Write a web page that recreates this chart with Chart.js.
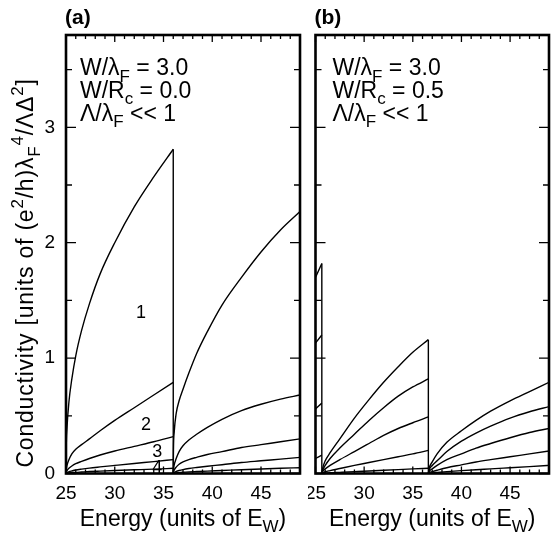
<!DOCTYPE html>
<html><head><meta charset="utf-8">
<script src="https://cdn.jsdelivr.net/npm/chart.js@4/dist/chart.umd.min.js"></script>
<style>
html,body{margin:0;padding:0;background:#fff;}
#wrap{position:relative;width:552px;height:535px;overflow:hidden;}
#ca{position:absolute;left:0;top:0;}
#cb{position:absolute;left:308px;top:0;}
</style></head><body>
<div id="wrap"><canvas id="ca" width="308" height="535"></canvas><canvas id="cb" width="244" height="535"></canvas></div>
<script>
// ---------- tick labels ----------
const xTicks = [25, 30, 35, 40, 45];
const yTicks = [0, 1, 2, 3];

// ---------- panel (a): W/Rc = 0.0 ----------
const eA1  = [25, 25.02, 25.1, 25.3, 25.6, 26, 26.6, 27.4, 28.5, 30, 32, 34, 36];
const a1n1 = [0, 0.20, 0.39, 0.62, 0.82, 1.02, 1.24, 1.47, 1.73, 2.0, 2.31, 2.57, 2.81];
const a1n2 = [0, 0.03, 0.07, 0.12, 0.17, 0.21, 0.25, 0.30, 0.37, 0.46, 0.57, 0.68, 0.79];
const a1n3 = [0, 0.01, 0.025, 0.045, 0.065, 0.085, 0.105, 0.13, 0.16, 0.195, 0.235, 0.275, 0.32];
const a1n4 = [0, 0.003, 0.008, 0.015, 0.022, 0.03, 0.038, 0.047, 0.057, 0.07, 0.087, 0.103, 0.12];
const a1n5 = [0, 0.001, 0.003, 0.005, 0.007, 0.01, 0.013, 0.017, 0.021, 0.026, 0.032, 0.038, 0.045];

const eA2  = [36, 36.02, 36.1, 36.3, 36.6, 37, 37.6, 38.4, 39.5, 41, 43, 45, 47, 49];
const a2n1 = [0, 0.20, 0.36, 0.52, 0.63, 0.73, 0.87, 1.04, 1.23, 1.46, 1.70, 1.92, 2.11, 2.27];
const a2n2 = [0, 0.03, 0.075, 0.13, 0.19, 0.24, 0.29, 0.34, 0.40, 0.47, 0.545, 0.60, 0.645, 0.68];
const a2n3 = [0, 0.01, 0.03, 0.055, 0.08, 0.10, 0.12, 0.14, 0.165, 0.19, 0.225, 0.25, 0.275, 0.30];
const a2n4 = [0, 0.003, 0.01, 0.018, 0.026, 0.034, 0.043, 0.052, 0.063, 0.076, 0.095, 0.11, 0.125, 0.14];
const a2n5 = [0, 0.001, 0.003, 0.005, 0.008, 0.011, 0.014, 0.017, 0.021, 0.026, 0.033, 0.039, 0.045, 0.05];

// curve labels in panel (a): [text, energy, conductivity]
const labelsA = [["1", 32.7, 1.40], ["2", 33.2, 0.43], ["3", 34.35, 0.195], ["4", 34.35, 0.057]];

// ---------- panel (b): W/Rc = 0.5 ----------
const eB0  = [25, 25.65];
const b0n1 = [1.70, 1.82];
const b0n2 = [1.13, 1.20];
const b0n3 = [0.56, 0.61];
const b0n4 = [0.13, 0.16];

const eB1  = [25.65, 25.75, 26, 26.5, 27.5, 29, 30.5, 32, 33.5, 35, 36.6];
const b1n1 = [0, 0.05, 0.11, 0.18, 0.30, 0.48, 0.64, 0.79, 0.925, 1.05, 1.16];
const b1n2 = [0, 0.03, 0.07, 0.13, 0.22, 0.34, 0.46, 0.57, 0.67, 0.75, 0.82];
const b1n3 = [0, 0.02, 0.04, 0.07, 0.12, 0.19, 0.26, 0.33, 0.39, 0.44, 0.49];
const b1n4 = [0, 0.006, 0.015, 0.025, 0.043, 0.07, 0.095, 0.12, 0.145, 0.17, 0.20];
const b1n5 = [0, 0.001, 0.003, 0.006, 0.01, 0.016, 0.022, 0.028, 0.034, 0.04, 0.045];

const eB2  = [36.6, 36.7, 37, 37.5, 38.5, 40, 41.5, 43, 45, 47, 49];
const b2n1 = [0, 0.05, 0.10, 0.17, 0.27, 0.37, 0.46, 0.54, 0.63, 0.71, 0.79];
const b2n2 = [0, 0.035, 0.07, 0.11, 0.19, 0.28, 0.35, 0.41, 0.48, 0.535, 0.58];
const b2n3 = [0, 0.02, 0.04, 0.07, 0.12, 0.17, 0.22, 0.26, 0.31, 0.355, 0.39];
const b2n4 = [0, 0.008, 0.016, 0.028, 0.05, 0.075, 0.10, 0.12, 0.145, 0.17, 0.195];
const b2n5 = [0, 0.002, 0.005, 0.009, 0.016, 0.025, 0.033, 0.04, 0.05, 0.06, 0.07];

// ---------- helpers ----------
const FONT = '"Liberation Sans", Arial, Helvetica, sans-serif';
Chart.defaults.color = '#000';
Chart.defaults.font.family = FONT;

function pts(xs, ys) { return xs.map((x, i) => ({ x: x, y: ys[i] })); }
function curveDs(xs, ys) {
  return { data: pts(xs, ys), borderColor: '#000', borderWidth: 1.4, pointRadius: 0,
           showLine: true, fill: false, cubicInterpolationMode: 'monotone' };
}
function dropDs(xs, ys) {
  const x = xs[xs.length - 1], y = ys[ys.length - 1];
  return { data: [{ x: x, y: 0 }, { x: x, y: y }], borderColor: '#000', borderWidth: 1.4,
           pointRadius: 0, showLine: true, fill: false, tension: 0 };
}

// rich text: parts = [[text, mode]], mode '' | 'sub' | 'sup'
function richWidth(ctx, parts, size) {
  let w = 0;
  for (const [t, m] of parts) {
    ctx.font = (m ? Math.round(size * 0.72) : size) + 'px ' + FONT;
    w += ctx.measureText(t).width;
  }
  return w;
}
function drawRich(ctx, parts, x, y, size) {
  ctx.textAlign = 'left';
  ctx.textBaseline = 'alphabetic';
  for (const [t, m] of parts) {
    const s = m ? Math.round(size * 0.72) : size;
    ctx.font = s + 'px ' + FONT;
    const dy = m === 'sub' ? size * 0.30 : (m === 'sup' ? -size * 0.42 : 0);
    ctx.fillText(t, x, y + dy);
    x += ctx.measureText(t).width;
  }
}

const framePlugin = {
  id: 'frame',
  afterDatasetsDraw(chart) {
    const { ctx, chartArea: a } = chart;
    const x = chart.scales.x, y = chart.scales.y;
    ctx.save();
    ctx.strokeStyle = '#000';
    ctx.lineWidth = 1.3;
    ctx.beginPath();
    for (let v = Math.ceil(x.min); v <= x.max + 1e-9; v++) {
      const px = x.getPixelForValue(v);
      const len = (v % 5 === 0) ? 7 : 4;
      ctx.moveTo(px, a.bottom); ctx.lineTo(px, a.bottom - len);
      ctx.moveTo(px, a.top); ctx.lineTo(px, a.top + len);
    }
    for (let k = 0; k * 0.5 <= y.max + 1e-9; k++) {
      const v = k * 0.5;
      const py = y.getPixelForValue(v);
      const len = (k % 2 === 0) ? 10 : 6;
      ctx.moveTo(a.left, py); ctx.lineTo(a.left + len, py);
      ctx.moveTo(a.right, py); ctx.lineTo(a.right - len, py);
    }
    ctx.stroke();
    ctx.lineWidth = 2.6;
    ctx.strokeRect(a.left, a.top, a.right - a.left, a.bottom - a.top);
    ctx.restore();
  }
};

const textPlugin = {
  id: 'texts',
  afterDraw(chart, args, o) {
    const { ctx, chartArea: a } = chart;
    const x = chart.scales.x, y = chart.scales.y;
    ctx.save();
    ctx.fillStyle = '#000';
    // panel tag
    ctx.font = 'bold 21px ' + FONT;
    ctx.textAlign = 'left'; ctx.textBaseline = 'alphabetic';
    ctx.fillText(o.tag, a.left - 1, 24);
    // annotation lines
    const L = a.left + o.annDx;
    drawRich(ctx, [['W/λ', ''], ['F', 'sub'], [' = 3.0', '']], L, 75, 23);
    drawRich(ctx, [['W/R', ''], ['c', 'sub'], [' = ' + o.wr, '']], L, 97.5, 23);
    drawRich(ctx, [['Λ/λ', ''], ['F', 'sub'], [' << 1', '']], L, 120.5, 23);
    // x title
    const xt = [['Energy (units of E', ''], ['W', 'sub'], [')', '']];
    const w = richWidth(ctx, xt, 23);
    drawRich(ctx, xt, (a.left + a.right) / 2 - w / 2, 525.5, 23);
    // curve labels
    if (o.curveLabels) {
      ctx.font = '18px ' + FONT;
      ctx.textAlign = 'center'; ctx.textBaseline = 'middle';
      for (const [t, ex, cy] of o.curveLabels) {
        ctx.fillText(t, x.getPixelForValue(ex), y.getPixelForValue(cy) + 1);
      }
    }
    // y title
    if (o.ytitle) {
      const yt = [['Conductivity [units of (e', ''], ['2', 'sup'], ['/h)λ', ''], ['F', 'sub'],
                  ['4', 'sup'], ['/ΛΔ', ''], ['2', 'sup'], [']', '']];
      const size = 23;
      ctx.letterSpacing = '0.8px';
      const tw = richWidth(ctx, yt, size);
      ctx.translate(33, 273);
      ctx.rotate(-Math.PI / 2);
      drawRich(ctx, yt, -tw / 2, 0, size);
      ctx.letterSpacing = '0px';
    }
    ctx.restore();
  }
};

function makeChart(id, datasets, opts) {
  return new Chart(document.getElementById(id), {
    type: 'scatter',
    data: { datasets: datasets },
    options: {
      responsive: false, animation: false, events: [],
      layout: { padding: { left: opts.padL, right: opts.padR, top: 35, bottom: 0 } },
      plugins: { legend: { display: false }, tooltip: { enabled: false }, texts: opts.texts },
      scales: {
        x: {
          type: 'linear', min: 25, max: 49,
          grid: { display: false, drawTicks: false }, border: { display: false },
          afterBuildTicks: s => { s.ticks = xTicks.map(v => ({ value: v })); },
          afterFit: s => { s.height = 61.5; s.paddingLeft = 0; s.paddingRight = 0; },
          ticks: { padding: 9, font: { size: 19, family: FONT }, color: '#000', maxRotation: 0, autoSkip: false }
        },
        y: {
          type: 'linear', min: 0, max: 3.8, display: opts.showY,
          grid: { display: false, drawTicks: false }, border: { display: false },
          afterBuildTicks: s => { s.ticks = yTicks.map(v => ({ value: v })); },
          afterFit: s => { s.width = opts.yW; s.paddingTop = 0; s.paddingBottom = 0; },
          ticks: { padding: 11, font: { size: 19, family: FONT }, color: '#000' }
        }
      }
    },
    plugins: [framePlugin, textPlugin]
  });
}

makeChart('ca', [
  curveDs(eA1, a1n1), curveDs(eA1, a1n2), curveDs(eA1, a1n3), curveDs(eA1, a1n4), curveDs(eA1, a1n5),
  dropDs(eA1, a1n1),
  curveDs(eA2, a2n1), curveDs(eA2, a2n2), curveDs(eA2, a2n3), curveDs(eA2, a2n4), curveDs(eA2, a2n5)
], { padL: 0, padR: 8, showY: true, yW: 66,
     texts: { tag: '(a)', wr: '0.0', annDx: 14, curveLabels: labelsA, ytitle: true } });

makeChart('cb', [
  curveDs(eB0, b0n1), curveDs(eB0, b0n2), curveDs(eB0, b0n3), curveDs(eB0, b0n4),
  dropDs(eB0, b0n1),
  curveDs(eB1, b1n1), curveDs(eB1, b1n2), curveDs(eB1, b1n3), curveDs(eB1, b1n4), curveDs(eB1, b1n5),
  dropDs(eB1, b1n1),
  curveDs(eB2, b2n1), curveDs(eB2, b2n2), curveDs(eB2, b2n3), curveDs(eB2, b2n4), curveDs(eB2, b2n5)
], { padL: 7.5, padR: 3, showY: false, yW: 0,
     texts: { tag: '(b)', wr: '0.5', annDx: 17, curveLabels: null, ytitle: false } });
</script>
</body></html>
